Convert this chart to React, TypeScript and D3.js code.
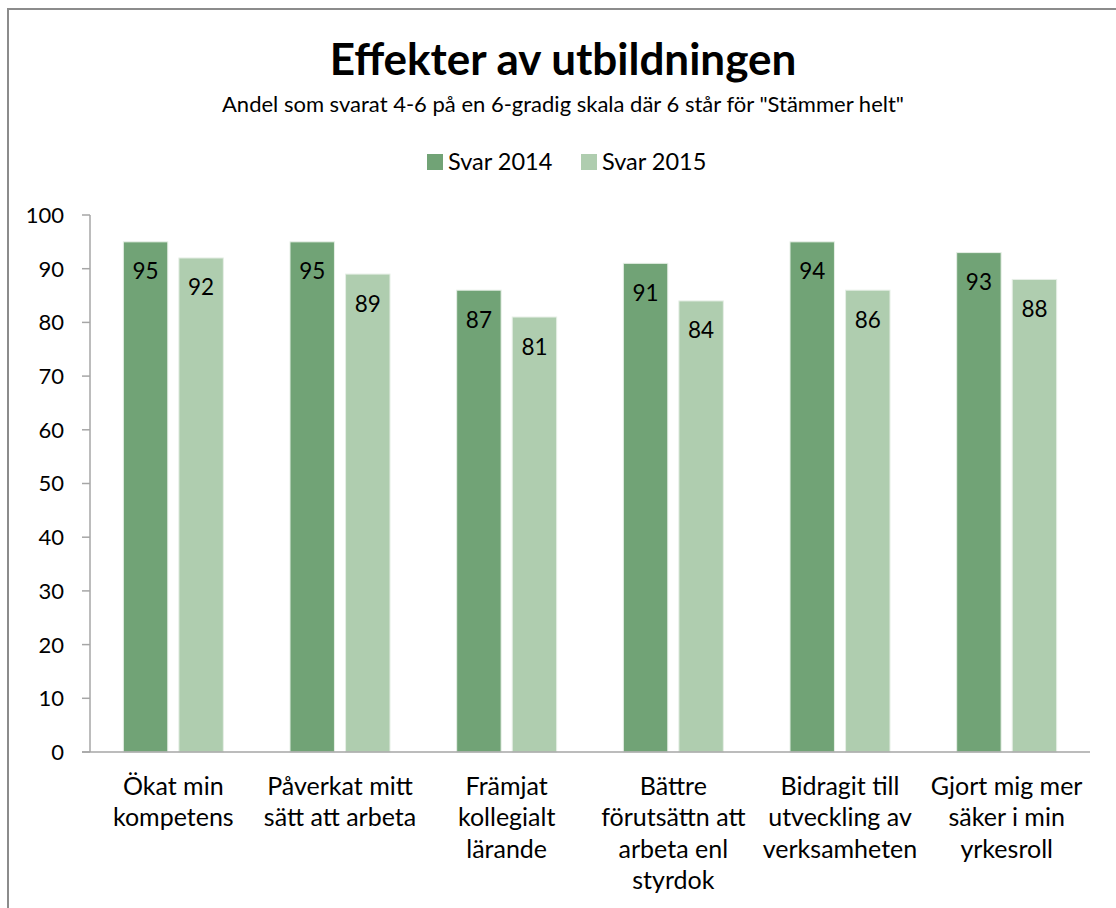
import React from "react";
import * as d3 from "d3";

const categories: string[] = [
  "Ökat min\nkompetens",
  "Påverkat mitt\nsätt att arbeta",
  "Främjat\nkollegialt\nlärande",
  "Bättre\nförutsättn att\narbeta enl\nstyrdok",
  "Bidragit till\nutveckling av\nverksamheten",
  "Gjort mig mer\nsäker i min\nyrkesroll",
];
const seriesNames: string[] = ["Svar 2014", "Svar 2015"];
const values2014: number[] = [95, 95, 86, 91, 95, 93];
const values2015: number[] = [92, 89, 81, 84, 86, 88];
const labels2014: string[] = ["95", "95", "87", "91", "94", "93"];
const labels2015: string[] = ["92", "89", "81", "84", "86", "88"];
const yTicks: number[] = [0, 10, 20, 30, 40, 50, 60, 70, 80, 90, 100];

const title = "Effekter av utbildningen";
const subtitle = 'Andel som svarat 4-6 på en 6-gradig skala där 6 står för "Stämmer helt"';

const W = 1116;
const H = 908;
const FONT = "Lato, 'Open Sans', sans-serif";
const colors = ["#71A376", "#AFCDAF"];
const axisColor = "#A6A6A6";

export default function App() {
  const plot = { left: 90, right: 1090, top: 215, bottom: 752 };
  const x0 = d3
    .scaleBand<number>()
    .domain(categories.map((_, i) => i))
    .range([plot.left, plot.right])
    .paddingInner(0)
    .paddingOuter(0);
  const x1 = d3
    .scaleBand<number>()
    .domain([0, 1])
    .range([0, 100])
    .paddingInner(0.2);
  const bandOffset = (x0.bandwidth() - 100) / 2;
  const y = d3.scaleLinear().domain([0, 100]).range([plot.bottom, plot.top]);

  const series = [
    { name: seriesNames[0], values: values2014, labels: labels2014, color: colors[0] },
    { name: seriesNames[1], values: values2015, labels: labels2015, color: colors[1] },
  ];

  const cx = 563;

  return (
    <svg
      width={W}
      height={H}
      style={{ position: "absolute", left: 0, top: 0, background: "#fff" }}
      fontFamily={FONT}
    >
      <rect x={0} y={0} width={W} height={H} fill="#fff" />
      {/* frame */}
      <path d={`M8,${H} L8,9 L${W},9`} fill="none" stroke="#8C8C8C" strokeWidth={2} />

      {/* title */}
      <text x={cx} y={75} textAnchor="middle" fontSize={44} fontWeight={700} fill="#000">
        {title}
      </text>
      <text x={cx} y={112} textAnchor="middle" fontSize={22} fill="#000">
        {subtitle}
      </text>

      {/* legend */}
      {series.map((s, i) => {
        const lx = [427, 581][i];
        return (
          <g key={s.name}>
            <rect x={lx} y={154} width={16} height={16} fill={s.color} />
            <text x={lx + 21} y={169.5} fontSize={23.5} fill="#000">
              {s.name}
            </text>
          </g>
        );
      })}

      {/* y axis */}
      <line x1={plot.left} x2={plot.left} y1={plot.top} y2={plot.bottom} stroke={axisColor} strokeWidth={1.5} />
      {yTicks.map((t) => (
        <g key={t}>
          <line x1={plot.left - 8} x2={plot.left} y1={y(t)} y2={y(t)} stroke={axisColor} strokeWidth={1.5} />
          <text x={64} y={y(t)} dy="0.36em" textAnchor="end" fontSize={22} fill="#000">
            {t}
          </text>
        </g>
      ))}

      {/* bars */}
      {series.map((s, si) =>
        s.values.map((v, ci) => {
          const bx = (x0(ci) as number) + bandOffset + (x1(si) as number);
          const bw = x1.bandwidth();
          return (
            <g key={`${si}-${ci}`}>
              <rect
                x={bx}
                y={y(v)}
                width={bw}
                height={y(0) - y(v)}
                fill={s.color}
                stroke="#E6EFE6"
                strokeWidth={1}
              />
              <text x={bx + bw / 2} y={y(v) + 37.5} textAnchor="middle" fontSize={22.5} fill="#000">
                {s.labels[ci]}
              </text>
            </g>
          );
        })
      )}

      {/* x axis */}
      <line x1={plot.left - 8} x2={plot.right} y1={plot.bottom} y2={plot.bottom} stroke={axisColor} strokeWidth={1.5} />
      {categories.map((c, ci) => {
        const mx = (x0(ci) as number) + x0.bandwidth() / 2;
        return (
          <text key={ci} x={mx} y={795} textAnchor="middle" fontSize={25} fill="#000">
            {c.split("\n").map((line, li) => (
              <tspan key={li} x={mx} dy={li === 0 ? 0 : 31.3}>
                {line}
              </tspan>
            ))}
          </text>
        );
      })}
    </svg>
  );
}
